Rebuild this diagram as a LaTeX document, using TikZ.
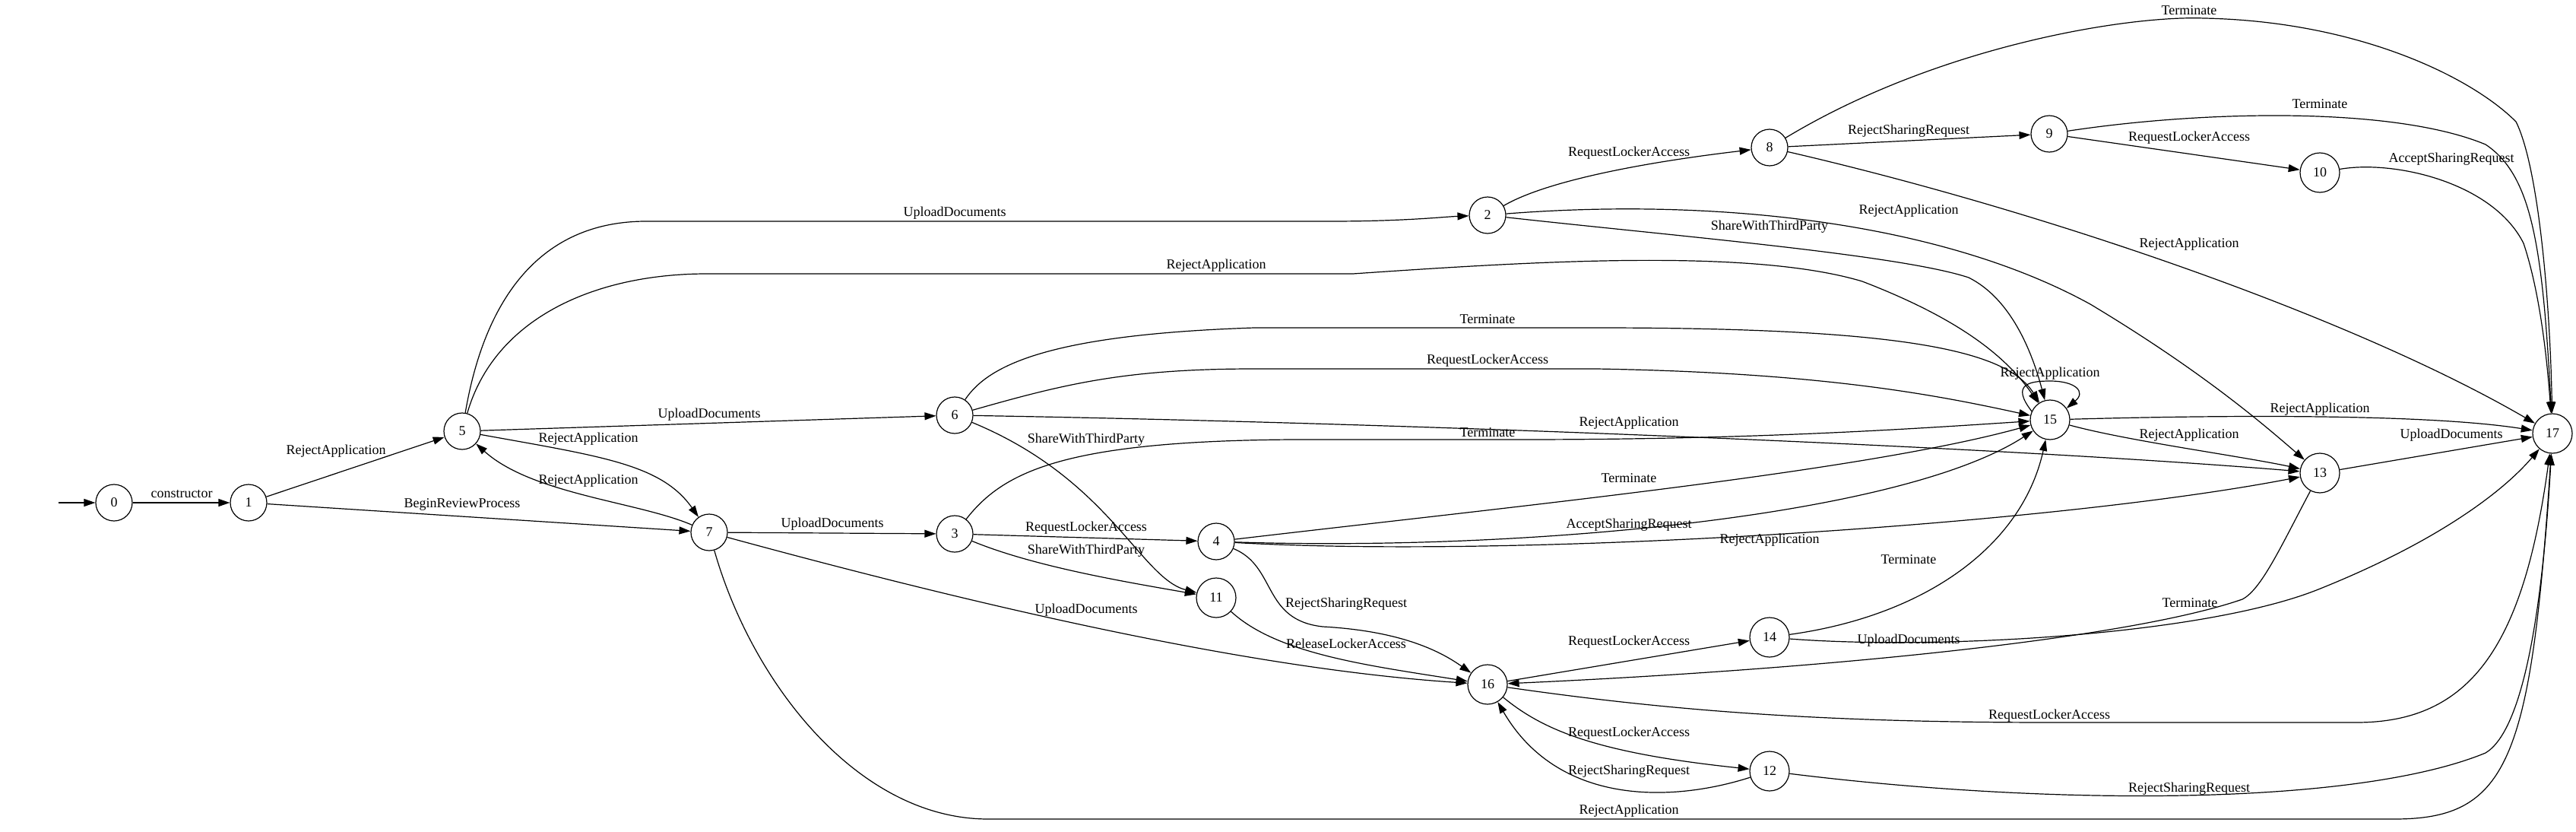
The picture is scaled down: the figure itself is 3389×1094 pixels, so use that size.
\documentclass[tikz,border=0pt]{standalone}
\usepackage{fontspec}
\setmainfont{Liberation Serif}
\usetikzlibrary{arrows.meta}
\begin{document}
\begin{tikzpicture}[x=1pt,y=-1pt,
  st/.style={circle,draw,line width=1.2pt,minimum size=48pt,inner sep=0pt,font=\fontsize{18pt}{21pt}\selectfont},
  stw/.style={st,minimum size=52pt},
  lab/.style={inner sep=0pt,font=\fontsize{18pt}{21pt}\selectfont},
  e/.style={line width=1.2pt,-{Triangle[length=15pt,width=10pt]}}]
\fill[white] (0,0) rectangle (3389,1094);
\useasboundingbox (0,0) rectangle (3389,1094);
% states
\coordinate (s) at (77,661);
\node[st] (n0) at (150,661) {0};
\node[st] (n1) at (327,661) {1};
\node[st] (n5) at (608,567) {5};
\node[st] (n7) at (933,700) {7};
\node[st] (n6) at (1256,546) {6};
\node[st] (n3) at (1256,702) {3};
\node[st] (n2) at (1957,283) {2};
\node[st] (n4) at (1600,712) {4};
\node[stw] (n11) at (1600,786) {11};
\node[stw] (n16) at (1957,900) {16};
\node[st] (n8) at (2328,194) {8};
\node[st] (n9) at (2696,176) {9};
\node[stw] (n10) at (3052,227) {10};
\node[stw] (n15) at (2697,552) {15};
\node[stw] (n13) at (3052,622) {13};
\node[stw] (n14) at (2328,838) {14};
\node[stw] (n12) at (2328,1014) {12};
\node[stw] (n17) at (3358,570) {17};
% edges
\draw[e] (s) -- (n0);
\draw[e] (n0) -- (n1);
\draw[e] (n1) -- (n5);
\draw[e] (n1) -- (n7);
\draw[e] (n5) .. controls (790,600) and (870,610) .. (n7);
\draw[e] (n7) .. controls (840,660) and (700,650) .. (n5);
\draw[e] (n5) -- (n6);
\draw[e] (n5) .. controls (640,380) and (720,291) .. (850,291) -- (1750,291) .. controls (1850,291) and (1900,285) .. (n2);
\draw[e] (n5) .. controls (650,420) and (780,360) .. (930,360) -- (1780,360) .. controls (2000,345) and (2300,325) .. (2450,370) .. controls (2580,420) and (2640,470) .. (n15);
\draw[e] (n6) .. controls (1300,480) and (1380,440) .. (1650,431) -- (2100,431) .. controls (2500,431) and (2640,460) .. (n15);
\draw[e] (n6) .. controls (1400,505) and (1480,485) .. (1650,485) -- (2100,485) .. controls (2400,490) and (2550,520) .. (n15);
\draw[e] (n6) .. controls (1800,555) and (2600,585) .. (n13);
\draw[e] (n6) .. controls (1460,630) and (1500,760) .. (n11);
\draw[e] (n7) -- (n3);
\draw[e] (n7) .. controls (1300,800) and (1650,880) .. (n16);
\draw[e] (n7) .. controls (990,900) and (1130,1077) .. (1300,1077) -- (3150,1077) .. controls (3300,1077) and (3330,1000) .. (n17);
\draw[e] (n3) -- (n4);
\draw[e] (n3) .. controls (1360,745) and (1480,765) .. (n11);
\draw[e] (n3) .. controls (1320,620) and (1400,580) .. (1700,578) -- (2000,578) .. controls (2300,578) and (2500,565) .. (n15);
\draw[e] (n4) .. controls (2000,665) and (2450,620) .. (n15);
\draw[e] (n4) .. controls (2000,725) and (2500,680) .. (n15);
\draw[e] (n4) .. controls (2000,735) and (2700,690) .. (n13);
\draw[e] (n4) .. controls (1680,745) and (1660,815) .. (1740,824) .. controls (1850,830) and (1900,860) .. (n16);
\draw[e] (n11) .. controls (1680,860) and (1800,875) .. (n16);
\draw[e] (n2) .. controls (2030,240) and (2150,215) .. (n8);
\draw[e] (n2) .. controls (2200,310) and (2500,335) .. (2590,365) .. controls (2640,390) and (2670,450) .. (n15);
\draw[e] (n2) .. controls (2250,260) and (2550,290) .. (2750,400) .. controls (2900,490) and (2980,560) .. (n13);
\draw[e] (n8) -- (n9);
\draw[e] (n8) .. controls (2550,60) and (2800,20) .. (2900,24) .. controls (3100,28) and (3250,100) .. (3310,160) .. controls (3340,220) and (3355,400) .. (n17);
\draw[e] (n8) .. controls (2700,280) and (3100,420) .. (n17);
\draw[e] (n9) -- (n10);
\draw[e] (n9) .. controls (2900,145) and (3150,140) .. (3270,190) .. controls (3330,230) and (3345,320) .. (n17);
\draw[e] (n10) .. controls (3150,210) and (3280,240) .. (3320,320) .. controls (3340,380) and (3350,460) .. (n17);
\draw[e] (n15.155) .. controls (2645,505) and (2670,501) .. (2697,501) .. controls (2730,501) and (2745,515) .. (n15.35);
\draw[e] (n15) .. controls (2950,545) and (3200,545) .. (n17);
\draw[e] (n15) .. controls (2800,580) and (2950,600) .. (n13);
\draw[e] (n13) -- (n17);
\draw[e] (n13) .. controls (3000,720) and (2975,775) .. (2950,788) .. controls (2800,840) and (2400,880) .. (n16);
\draw[e] (n14) .. controls (2530,810) and (2660,720) .. (n15);
\draw[e] (n14) .. controls (2550,855) and (2900,835) .. (3050,775) .. controls (3200,715) and (3290,650) .. (n17);
\draw[e] (n16) -- (n14);
\draw[e] (n16) .. controls (2200,935) and (2400,950) .. (2700,950) -- (3100,950) .. controls (3250,950) and (3320,850) .. (n17);
\draw[e] (n16) .. controls (2030,960) and (2100,990) .. (n12);
\draw[e] (n12) .. controls (2200,1055) and (2050,1060) .. (n16);
\draw[e] (n12) .. controls (2700,1060) and (3100,1060) .. (3270,990) .. controls (3320,960) and (3345,800) .. (n17);
% labels
\node[lab] (l1) at (239,650) {constructor};
\node[lab] (l2) at (442,593) {RejectApplication};
\node[lab] (l3) at (608,663) {BeginReviewProcess};
\node[lab] (l4) at (774,577) {RejectApplication};
\node[lab] (l5) at (774,632) {RejectApplication};
\node[lab] (l6) at (933,545) {UploadDocuments};
\node[lab] (l7) at (1256,280) {UploadDocuments};
\node[lab] (l8) at (1600,349) {RejectApplication};
\node[lab] (l9) at (1957,420) {Terminate};
\node[lab] (l10) at (1957,474) {RequestLockerAccess};
\node[lab] (l11) at (2143,556) {RejectApplication};
\node[lab] (l12) at (1429,578) {ShareWithThirdParty};
\node[lab] (l13) at (1095,689) {UploadDocuments};
\node[lab] (l14) at (1429,802) {UploadDocuments};
\node[lab] (l15) at (2143,1066) {RejectApplication};
\node[lab] (l16) at (1429,694) {RequestLockerAccess};
\node[lab] (l17) at (1429,724) {ShareWithThirdParty};
\node[lab] (l18) at (1957,569) {Terminate};
\node[lab] (l19) at (2143,629) {Terminate};
\node[lab] (l20) at (2143,690) {AcceptSharingRequest};
\node[lab] (l21) at (2328,710) {RejectApplication};
\node[lab] (l22) at (1771,794) {RejectSharingRequest};
\node[lab] (l23) at (1771,846) {ReleaseLockerAccess};
\node[lab] (l24) at (2143,201) {RequestLockerAccess};
\node[lab] (l25) at (2328,298) {ShareWithThirdParty};
\node[lab] (l26) at (2511,277) {RejectApplication};
\node[lab] (l27) at (2511,172) {RejectSharingRequest};
\node[lab] (l28) at (2880,14) {Terminate};
\node[lab] (l29) at (2880,321) {RejectApplication};
\node[lab] (l30) at (2880,181) {RequestLockerAccess};
\node[lab] (l31) at (3052,137) {Terminate};
\node[lab] (l32) at (3225,209) {AcceptSharingRequest};
\node[lab] (l33) at (2697,491) {RejectApplication};
\node[lab] (l34) at (3052,538) {RejectApplication};
\node[lab] (l35) at (2880,572) {RejectApplication};
\node[lab] (l36) at (3225,572) {UploadDocuments};
\node[lab] (l37) at (2881,793) {Terminate};
\node[lab] (l38) at (2511,736) {Terminate};
\node[lab] (l39) at (2511,842) {UploadDocuments};
\node[lab] (l40) at (2143,844) {RequestLockerAccess};
\node[lab] (l41) at (2696,941) {RequestLockerAccess};
\node[lab] (l42) at (2143,964) {RequestLockerAccess};
\node[lab] (l43) at (2143,1014) {RejectSharingRequest};
\node[lab] (l44) at (2880,1037) {RejectSharingRequest};
\end{tikzpicture}
\end{document}
